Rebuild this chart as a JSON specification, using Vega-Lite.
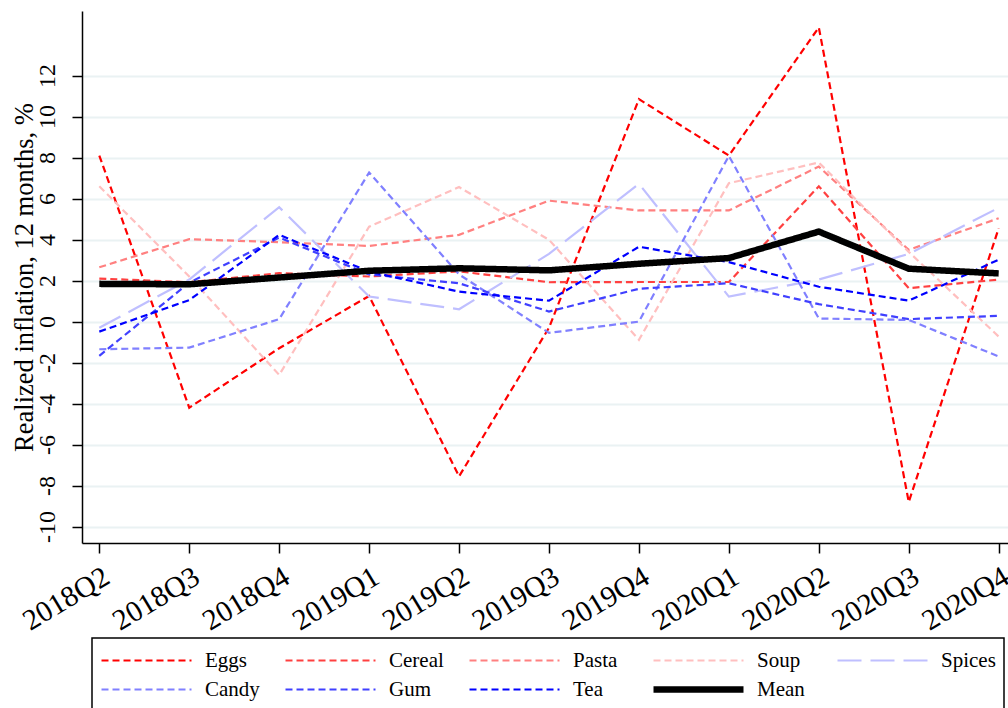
{
  "$schema": "https://vega.github.io/schema/vega-lite/v6.json",
  "width": 926,
  "height": 532,
  "autosize": {"type": "none"},
  "padding": {"left": 82, "top": 11, "right": 0, "bottom": 165},
  "background": "white",
  "config": {"view": {"stroke": null}, "font": "Liberation Serif"},
  "data": {"values": [
    {"q":"2018Q2","s":"Eggs","v":8.1},{"q":"2018Q3","s":"Eggs","v":-4.2},{"q":"2018Q4","s":"Eggs","v":-1.3},{"q":"2019Q1","s":"Eggs","v":1.25},{"q":"2019Q2","s":"Eggs","v":-7.55},{"q":"2019Q3","s":"Eggs","v":-0.3},{"q":"2019Q4","s":"Eggs","v":10.85},{"q":"2020Q1","s":"Eggs","v":8.1},{"q":"2020Q2","s":"Eggs","v":14.35},{"q":"2020Q3","s":"Eggs","v":-8.8},{"q":"2020Q4","s":"Eggs","v":4.55},
    {"q":"2018Q2","s":"Cereal","v":2.1},{"q":"2018Q3","s":"Cereal","v":1.92},{"q":"2018Q4","s":"Cereal","v":2.36},{"q":"2019Q1","s":"Cereal","v":2.2},{"q":"2019Q2","s":"Cereal","v":2.45},{"q":"2019Q3","s":"Cereal","v":1.92},{"q":"2019Q4","s":"Cereal","v":1.93},{"q":"2020Q1","s":"Cereal","v":1.93},{"q":"2020Q2","s":"Cereal","v":6.6},{"q":"2020Q3","s":"Cereal","v":1.63},{"q":"2020Q4","s":"Cereal","v":2.05},
    {"q":"2018Q2","s":"Pasta","v":2.65},{"q":"2018Q3","s":"Pasta","v":4.02},{"q":"2018Q4","s":"Pasta","v":3.87},{"q":"2019Q1","s":"Pasta","v":3.69},{"q":"2019Q2","s":"Pasta","v":4.23},{"q":"2019Q3","s":"Pasta","v":5.9},{"q":"2019Q4","s":"Pasta","v":5.42},{"q":"2020Q1","s":"Pasta","v":5.42},{"q":"2020Q2","s":"Pasta","v":7.56},{"q":"2020Q3","s":"Pasta","v":3.5},{"q":"2020Q4","s":"Pasta","v":5.04},
    {"q":"2018Q2","s":"Soup","v":6.6},{"q":"2018Q3","s":"Soup","v":2.2},{"q":"2018Q4","s":"Soup","v":-2.6},{"q":"2019Q1","s":"Soup","v":4.63},{"q":"2019Q2","s":"Soup","v":6.56},{"q":"2019Q3","s":"Soup","v":3.99},{"q":"2019Q4","s":"Soup","v":-0.89},{"q":"2020Q1","s":"Soup","v":6.75},{"q":"2020Q2","s":"Soup","v":7.76},{"q":"2020Q3","s":"Soup","v":3.4},{"q":"2020Q4","s":"Soup","v":-0.73},
    {"q":"2018Q2","s":"Spices","v":-0.3},{"q":"2018Q3","s":"Spices","v":2.05},{"q":"2018Q4","s":"Spices","v":5.58},{"q":"2019Q1","s":"Spices","v":1.22},{"q":"2019Q2","s":"Spices","v":0.6},{"q":"2019Q3","s":"Spices","v":3.3},{"q":"2019Q4","s":"Spices","v":6.72},{"q":"2020Q1","s":"Spices","v":1.22},{"q":"2020Q2","s":"Spices","v":2.05},{"q":"2020Q3","s":"Spices","v":3.3},{"q":"2020Q4","s":"Spices","v":5.55},
    {"q":"2018Q2","s":"Candy","v":-1.35},{"q":"2018Q3","s":"Candy","v":-1.27},{"q":"2018Q4","s":"Candy","v":0.12},{"q":"2019Q1","s":"Candy","v":7.27},{"q":"2019Q2","s":"Candy","v":2.3},{"q":"2019Q3","s":"Candy","v":-0.55},{"q":"2019Q4","s":"Candy","v":0.0},{"q":"2020Q1","s":"Candy","v":8.08},{"q":"2020Q2","s":"Candy","v":0.15},{"q":"2020Q3","s":"Candy","v":0.08},{"q":"2020Q4","s":"Candy","v":-1.7},
    {"q":"2018Q2","s":"Gum","v":-1.67},{"q":"2018Q3","s":"Gum","v":1.9},{"q":"2018Q4","s":"Gum","v":4.1},{"q":"2019Q1","s":"Gum","v":2.3},{"q":"2019Q2","s":"Gum","v":1.87},{"q":"2019Q3","s":"Gum","v":0.49},{"q":"2019Q4","s":"Gum","v":1.6},{"q":"2020Q1","s":"Gum","v":1.87},{"q":"2020Q2","s":"Gum","v":0.85},{"q":"2020Q3","s":"Gum","v":0.12},{"q":"2020Q4","s":"Gum","v":0.28},
    {"q":"2018Q2","s":"Tea","v":-0.49},{"q":"2018Q3","s":"Tea","v":1.05},{"q":"2018Q4","s":"Tea","v":4.23},{"q":"2019Q1","s":"Tea","v":2.44},{"q":"2019Q2","s":"Tea","v":1.46},{"q":"2019Q3","s":"Tea","v":1.02},{"q":"2019Q4","s":"Tea","v":3.65},{"q":"2020Q1","s":"Tea","v":2.9},{"q":"2020Q2","s":"Tea","v":1.7},{"q":"2020Q3","s":"Tea","v":1.02},{"q":"2020Q4","s":"Tea","v":3.02},
    {"q":"2018Q2","s":"Mean","v":1.84},{"q":"2018Q3","s":"Mean","v":1.82},{"q":"2018Q4","s":"Mean","v":2.15},{"q":"2019Q1","s":"Mean","v":2.48},{"q":"2019Q2","s":"Mean","v":2.6},{"q":"2019Q3","s":"Mean","v":2.5},{"q":"2019Q4","s":"Mean","v":2.82},{"q":"2020Q1","s":"Mean","v":3.1},{"q":"2020Q2","s":"Mean","v":4.39},{"q":"2020Q3","s":"Mean","v":2.58},{"q":"2020Q4","s":"Mean","v":2.35}
  ]},
  "mark": {"type": "line", "clip": false, "strokeCap": "butt", "strokeJoin": "miter"},
  "encoding": {
    "x": {
      "field": "q", "type": "ordinal",
      "scale": {"type": "point", "padding": 0.148, "align": 0.65},
      "axis": {
        "title": null, "grid": false,
        "labelAngle": -31, "labelAlign": "right", "labelBaseline": "top",
        "labelFont": "Liberation Serif", "labelFontSize": 29.5, "labelColor": "black", "labelPadding": 9,
        "tickSize": 10, "tickColor": "black", "tickWidth": 1.5,
        "domainColor": "black", "domainWidth": 1.5
      }
    },
    "y": {
      "field": "v", "type": "quantitative",
      "scale": {"domain": [-10.8, 15.15], "nice": false, "zero": false},
      "axis": {
        "title": "Realized inflation, 12 months, %",
        "titleFont": "Liberation Serif", "titleFontSize": 26.5, "titleFontWeight": "normal", "titleColor": "black",
        "titleAngle": 270, "titleBaseline": "bottom", "titleAlign": "center", "titleX": -43.5,
        "values": [-10, -8, -6, -4, -2, 0, 2, 4, 6, 8, 10, 12],
        "labelExpr": "datum.value < 0 ? '-' + (-datum.value) : '' + datum.value",
        "labelAngle": -90, "labelAlign": "center", "labelBaseline": "bottom",
        "labelFont": "Liberation Serif", "labelFontSize": 24, "labelColor": "black", "labelPadding": 13,
        "tickSize": 10, "tickColor": "black", "tickWidth": 1.5,
        "domainColor": "black", "domainWidth": 1.5,
        "grid": true, "gridColor": "#eaf2f3", "gridWidth": 1.8
      }
    },
    "color": {
      "field": "s", "type": "nominal",
      "scale": {
        "domain": ["Eggs", "Cereal", "Pasta", "Soup", "Spices", "Candy", "Gum", "Tea", "Mean"],
        "range": ["#ff0000", "#ff4040", "#ff8080", "#ffbfbf", "#bfbfff", "#8080ff", "#4040ff", "#0000ff", "#000000"]
      },
      "legend": {
        "title": null, "orient": "none", "legendX": 10, "legendY": 627,
        "direction": "horizontal", "columns": 5, "gridAlign": "all",
        "symbolType": "stroke", "symbolSize": 8100, "clipHeight": 29, "symbolStrokeWidth": 2.2,
        "labelFont": "Liberation Serif", "labelFontSize": 21, "labelColor": "black", "labelOffset": 12, "labelLimit": 200,
        "columnPadding": 24, "rowPadding": 0, "padding": 8,
        "strokeColor": "black", "fillColor": "white", "symbolOpacity": 1,
        "encode": {
          "legend": {"update": {"strokeWidth": {"value": 1.5}}},
          "symbols": {"update": {"strokeWidth": {"signal": "(datum.value === 'Mean' ? 6.5 : 2.2)"}}}
        }
      }
    },
    "strokeDash": {
      "field": "s", "type": "nominal",
      "scale": {
        "domain": ["Eggs", "Cereal", "Pasta", "Soup", "Spices", "Candy", "Gum", "Tea", "Mean"],
        "range": [[7, 4], [7, 4], [7, 4], [7, 4], [24, 9], [7, 4], [7, 4], [7, 4], [1, 0]]
      }
    },
    "strokeWidth": {
      "condition": {"test": "datum.s === 'Mean'", "value": 6.5},
      "value": 2.2
    }
  }
}
